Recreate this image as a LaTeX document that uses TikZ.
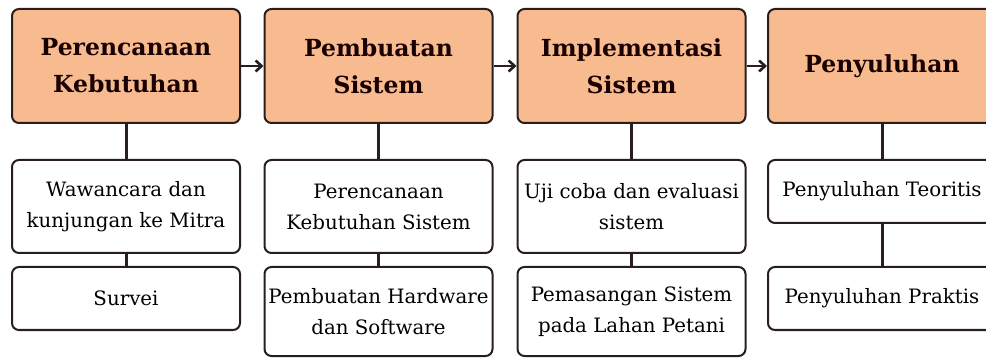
\documentclass[tikz,border=0pt]{standalone}
\usepackage{fontspec}
\setmainfont{DejaVu Serif}
\usepackage{tikz}
\usetikzlibrary{arrows.meta,positioning}
\definecolor{peach}{RGB}{248,187,143}
\definecolor{edge}{RGB}{40,30,30}

\begin{document}
\begin{tikzpicture}[x=1pt,y=1pt,
    stage/.style={draw=edge, line width=2pt, fill=peach, rounded corners=7pt,
        minimum width=228pt, minimum height=114pt, inner xsep=2pt, align=center,
        text=black!90!red, font=\fontsize{23.5}{37}\selectfont\bfseries},
    task/.style={draw=edge, line width=2pt, fill=white, rounded corners=7pt,
        minimum width=228pt, inner xsep=2pt, align=center,
        font=\fontsize{19.8}{31}\selectfont},
    link/.style={draw=edge, line width=3pt},
    flow/.style={draw=edge, line width=2.6pt, -{Straight Barb[length=6pt,width=11pt]}}]
    %% Background
    \path[use as bounding box, clip] (0,0) rectangle (986,-358);
    %% Stages
    \node[stage] (plan) at (126,-66) {Perencanaan\\Kebutuhan};
    \node[stage] (build) at (378.5,-66) {Pembuatan\\Sistem};
    \node[stage] (impl) at (631.5,-66) {Implementasi\\Sistem};
    \node[stage] (ext) at (882,-66) {Penyuluhan};
    %% Tasks
    \node[task, minimum height=93pt] (plan1) at (126,-206.5) {Wawancara dan\\kunjungan ke Mitra};
    \node[task, minimum height=63pt] (plan2) at (126,-298.5) {Survei};
    \node[task, minimum height=93pt] (build1) at (378.5,-206.5) {Perencanaan\\Kebutuhan Sistem};
    \node[task, minimum height=89pt] (build2) at (378.5,-311.5) {Pembuatan Hardware\\dan Software};
    \node[task, minimum height=93pt] (impl1) at (631.5,-206.5) {Uji coba dan evaluasi\\sistem};
    \node[task, minimum height=89pt] (impl2) at (631.5,-311.5) {Pemasangan Sistem\\pada Lahan Petani};
    \node[task, minimum height=63pt] (ext1) at (882,-191.5) {Penyuluhan Teoritis};
    \node[task, minimum height=63pt] (ext2) at (882,-298.5) {Penyuluhan Praktis};
    %% Flow
    \draw[flow] (plan) -- (build);
    \draw[flow] (build) -- (impl);
    \draw[flow] (impl) -- (ext);
    %% Links
    \draw[link] (plan) -- (plan1);
    \draw[link] (plan1) -- (plan2);
    \draw[link] (build) -- (build1);
    \draw[link] (build1) -- (build2);
    \draw[link] (impl) -- (impl1);
    \draw[link] (impl1) -- (impl2);
    \draw[link] (ext) -- (ext1);
    \draw[link] (ext1) -- (ext2);
\end{tikzpicture}
\end{document}
